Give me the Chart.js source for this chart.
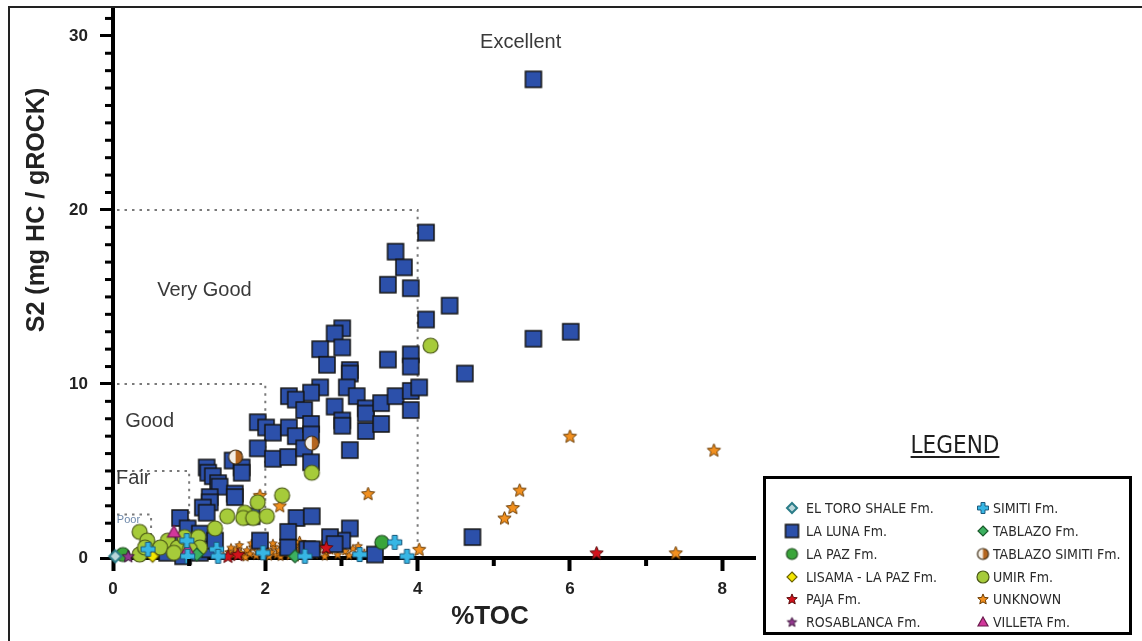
<!DOCTYPE html>
<html>
<head>
<meta charset="utf-8">
<script src="https://cdn.jsdelivr.net/npm/chart.js@4.4.1/dist/chart.umd.min.js"></script>
<style>
  html, body { margin: 0; padding: 0; background: #fff; }
  canvas { display: block; }
</style>
</head>
<body>
<canvas id="c" width="1142" height="641"></canvas>
<script>
// ---- Rock-Eval pyrolysis: S2 vs %TOC by formation ----
const formations = [
  'EL TORO SHALE Fm.', 'LA LUNA Fm.', 'LA PAZ Fm.', 'LISAMA - LA PAZ Fm.',
  'PAJA Fm.', 'ROSABLANCA Fm.', 'SIMITI Fm.', 'TABLAZO Fm.',
  'TABLAZO SIMITI Fm.', 'UMIR Fm.', 'UNKNOWN', 'VILLETA Fm.'
];

// [TOC %, S2 mg HC/g rock]
const elToroShale = [[0.03, 0.1]];
const laLuna = [
  [5.52, 27.5], [4.11, 18.7], [3.71, 17.6], [3.82, 16.7], [3.61, 15.7], [3.91, 15.5],
  [4.42, 14.5], [4.11, 13.7], [5.52, 12.6], [6.01, 13.0], [4.62, 10.6], [3.01, 13.2],
  [2.91, 12.9], [3.01, 12.1], [2.72, 12.0], [3.61, 11.4], [3.91, 11.7], [3.91, 11.0],
  [2.81, 11.1], [3.11, 10.8], [3.11, 10.6], [2.72, 9.8], [2.60, 9.5], [2.31, 9.3],
  [2.40, 9.1], [2.51, 8.5], [2.91, 8.7], [3.07, 9.8], [3.20, 9.3], [3.32, 8.6],
  [3.32, 8.3], [3.52, 8.9], [3.71, 9.3], [3.91, 9.6], [4.02, 9.8], [3.91, 8.5],
  [3.01, 7.9], [3.01, 7.6], [3.32, 7.3], [3.52, 7.7], [3.11, 6.2], [1.90, 7.8],
  [2.01, 7.5], [2.10, 7.2], [2.31, 7.5], [2.40, 7.0], [2.60, 7.7], [2.60, 7.1],
  [1.90, 6.3], [2.10, 5.7], [2.30, 5.8], [2.51, 6.3], [2.60, 5.5], [1.57, 5.6],
  [1.69, 5.2], [1.69, 4.9], [1.23, 5.2], [1.25, 4.9], [1.31, 4.7], [1.38, 4.3],
  [1.40, 4.1], [1.27, 3.5], [1.27, 3.2], [1.18, 2.9], [1.60, 3.7], [1.60, 3.5],
  [0.88, 2.3], [0.98, 1.7], [1.23, 2.6], [1.82, 2.4], [2.41, 2.3], [2.61, 2.4],
  [2.30, 1.5], [3.11, 1.7], [3.01, 1.0], [2.85, 1.2], [1.93, 1.0], [3.44, 0.2],
  [2.55, 0.5], [0.71, 0.3], [0.92, 0.1], [4.72, 1.2], [1.14, 0.3], [1.27, 0.5],
  [0.92, 0.9], [2.30, 0.6], [2.61, 0.5], [2.91, 0.8], [1.14, 1.4], [1.34, 1.0]
];
const laPaz = [[3.53, 0.9], [0.13, 0.2]];
const lisamaLaPaz = [[0.52, 0.1]];
const paja = [[1.51, 0.1], [1.64, 0.2], [2.80, 0.6], [6.35, 0.3]];
const rosablanca = [[0.20, 0.1]];
const simiti = [
  [0.46, 0.5], [0.97, 1.0], [0.98, 0.1], [1.36, 0.5], [1.38, 0.1],
  [1.97, 0.3], [2.52, 0.1], [3.24, 0.2], [3.70, 0.9], [3.86, 0.1]
];
const tablazo = [[1.10, 0.2], [2.39, 0.1]];
const tablazoSimiti = [[2.61, 6.6], [1.61, 5.8]];
const umir = [
  [4.17, 12.2], [2.61, 4.9], [2.22, 3.6], [1.90, 3.2], [1.73, 2.6], [1.71, 2.3],
  [1.84, 2.3], [2.02, 2.4], [1.50, 2.4], [1.34, 1.7], [0.35, 1.5], [0.45, 1.0],
  [0.72, 1.0], [0.85, 0.6], [0.94, 1.2], [1.12, 1.2], [1.14, 0.6], [1.01, 0.5],
  [0.35, 0.2], [0.62, 0.6], [0.42, 0.6], [0.80, 0.3]
];
// unknown-formation samples: isolated ones, then the dense low-S2 group
const unknownScattered = [
  [7.89, 6.2], [6.00, 7.0], [5.34, 3.9], [5.25, 2.9], [5.14, 2.3], [3.35, 3.7],
  [7.39, 0.3], [4.02, 0.5], [1.93, 3.6], [2.19, 3.0], [2.45, 0.9]
];
const unknownCluster = [
  [0.75, 0.2], [1.45, 0.15], [1.52, 0.35], [1.58, 0.2], [1.62, 0.5], [1.68, 0.3],
  [1.72, 0.12], [1.76, 0.45], [1.80, 0.25], [1.84, 0.6], [1.88, 0.15], [1.90, 0.4],
  [1.95, 0.7], [1.98, 0.22], [2.02, 0.5], [2.05, 0.1], [2.08, 0.35], [2.12, 0.65],
  [2.15, 0.2], [2.18, 0.45], [2.22, 0.8], [2.25, 0.3], [2.28, 0.55], [2.32, 0.12],
  [2.35, 0.4], [2.38, 0.7], [2.42, 0.25], [2.46, 0.5], [2.50, 0.15], [2.55, 0.6],
  [2.60, 0.35], [2.65, 0.2], [2.70, 0.5], [2.75, 0.85], [2.80, 0.3], [2.88, 0.6],
  [2.95, 0.2], [3.05, 0.4], [3.15, 0.55], [3.30, 0.3], [3.45, 0.5],
  [1.55, 0.6], [1.66, 0.75], [1.74, 0.05], [1.82, 0.85], [1.93, 0.55], [2.00, 0.3],
  [2.10, 0.85], [2.20, 0.08], [2.27, 0.72], [2.40, 0.05], [2.48, 0.75], [2.58, 0.18],
  [2.68, 0.7], [2.78, 0.1], [2.85, 0.45], [2.98, 0.7], [3.10, 0.15], [3.22, 0.7]
];
const villeta = [[0.80, 1.5], [0.98, 0.5]];

// Source-rock quality classes (upper TOC / S2 limits)
const gradeNames = ['Poor', 'Fair', 'Good', 'Very Good', 'Excellent'];
const gradeTOC = [0.5, 1, 2, 4];
const gradeS2 = [2.5, 5, 10, 20];

// Axis ticks
const xTicks = [0, 2, 4, 6, 8];
const yTicks = [0, 10, 20, 30];

// ---- marker sprites ----
function sprite(shape, size, fill, stroke, lw) {
  const d = Math.ceil(size + lw + 2);
  const c = document.createElement('canvas');
  c.width = d; c.height = d;
  const g = c.getContext('2d');
  const m = d / 2, r = size / 2;
  g.lineWidth = lw; g.strokeStyle = stroke; g.fillStyle = fill; g.lineJoin = 'miter';
  g.beginPath();
  if (shape === 'square') {
    g.rect(m - r, m - r, size, size);
  } else if (shape === 'circle') {
    g.arc(m, m, r, 0, Math.PI * 2);
  } else if (shape === 'diamond') {
    g.moveTo(m, m - r); g.lineTo(m + r, m); g.lineTo(m, m + r); g.lineTo(m - r, m); g.closePath();
  } else if (shape === 'triangle') {
    g.moveTo(m, m - r); g.lineTo(m + r, m + r * 0.8); g.lineTo(m - r, m + r * 0.8); g.closePath();
  } else if (shape === 'star') {
    for (let k = 0; k < 10; k++) {
      const a = -Math.PI / 2 + k * Math.PI / 5;
      const rr = k % 2 ? r * 0.45 : r;
      const px = m + rr * Math.cos(a), py = m + 0.08 * r + rr * Math.sin(a);
      k ? g.lineTo(px, py) : g.moveTo(px, py);
    }
    g.closePath();
  } else if (shape === 'plus') {
    const w = size * 0.18;
    const pts = [[-w, -r], [w, -r], [w, -w], [r, -w], [r, w], [w, w], [w, r], [-w, r], [-w, w], [-r, w], [-r, -w], [-w, -w]];
    pts.forEach((p, k) => k ? g.lineTo(m + p[0], m + p[1]) : g.moveTo(m + p[0], m + p[1]));
    g.closePath();
  } else if (shape === 'half') {
    g.arc(m, m, r, 0, Math.PI * 2);
    g.fillStyle = '#f4efe6'; g.fill();
    g.beginPath(); g.arc(m, m, r, -Math.PI / 2, Math.PI / 2); g.closePath();
    g.fillStyle = fill; g.fill();
    g.beginPath(); g.arc(m, m, r, 0, Math.PI * 2);
    g.stroke();
    return c;
  }
  g.fill(); g.stroke();
  return c;
}

const styleDefs = {
  'EL TORO SHALE Fm.':  ['diamond', 12, '#b9d6da', '#2b7c88', 2],
  'LA LUNA Fm.':        ['square', 16, '#2c50aa', '#141414', 1.5],
  'LA PAZ Fm.':         ['circle', 14, '#3aa53a', '#1f4a1f', 1.2],
  'LISAMA - LA PAZ Fm.':['diamond', 12, '#f3e600', '#6b6200', 1.2],
  'PAJA Fm.':           ['star', 14, '#d3121c', '#5a0a0a', 1],
  'ROSABLANCA Fm.':     ['star', 13, '#93388f', '#3e163c', 1],
  'SIMITI Fm.':         ['plus', 14, '#37b6e4', '#1b5a7c', 1],
  'TABLAZO Fm.':        ['diamond', 13, '#3cb160', '#1b5a2b', 1.2],
  'TABLAZO SIMITI Fm.': ['half', 14, '#b4661f', '#3b2a12', 1.2],
  'UMIR Fm.':           ['circle', 15, '#a6cb3a', '#4a5816', 1.2],
  'UNKNOWN':            ['star', 14, '#f2901f', '#6a3a00', 1],
  'VILLETA Fm.':        ['triangle', 13, '#d2379b', '#6b1a4d', 1.2]
};
const sprites = {}, legendSprites = {};
for (const name of formations) {
  const s = styleDefs[name];
  sprites[name] = sprite(s[0], s[1], s[2], s[3], s[4]);
  legendSprites[name] = sprite(s[0], Math.round(s[1] * 0.8), s[2], s[3], s[4]);
}
const smallStar = sprite('star', 9, '#e8871a', '#5a3000', 0.8);

const toPts = arr => arr.map(p => ({ x: p[0], y: p[1] }));
const seriesData = {
  'EL TORO SHALE Fm.': elToroShale,
  'LA LUNA Fm.': laLuna,
  'LA PAZ Fm.': laPaz,
  'LISAMA - LA PAZ Fm.': lisamaLaPaz,
  'PAJA Fm.': paja,
  'ROSABLANCA Fm.': rosablanca,
  'SIMITI Fm.': simiti,
  'TABLAZO Fm.': tablazo,
  'TABLAZO SIMITI Fm.': tablazoSimiti,
  'UMIR Fm.': umir,
  'UNKNOWN': unknownScattered.concat(unknownCluster),
  'VILLETA Fm.': villeta
};
// stacking: lower order is drawn on top
const drawOrder = {
  'UNKNOWN': 12, 'LA LUNA Fm.': 11, 'UMIR Fm.': 10, 'TABLAZO SIMITI Fm.': 9,
  'LA PAZ Fm.': 8, 'TABLAZO Fm.': 7, 'PAJA Fm.': 6, 'VILLETA Fm.': 5,
  'LISAMA - LA PAZ Fm.': 4, 'ROSABLANCA Fm.': 3, 'EL TORO SHALE Fm.': 2, 'SIMITI Fm.': 1
};

const datasets = formations.map(name => ({
  label: name,
  data: toPts(seriesData[name]),
  order: drawOrder[name],
  clip: false,
  pointStyle: name === 'UNKNOWN'
    ? (ctx => ctx.dataIndex < unknownScattered.length ? sprites[name] : smallStar)
    : sprites[name],
  pointRadius: 7,
  showLine: false
}));

const FONT = "'Liberation Sans', Arial, Helvetica, sans-serif";
const NARROW = "'Liberation Sans Narrow', 'DejaVu Sans Condensed', 'Arial Narrow', sans-serif";

const decor = {
  id: 'decor',
  beforeDatasetsDraw(chart) {
    const g = chart.ctx, xs = chart.scales.x, ys = chart.scales.y;
    g.save();
    // quality class boundaries
    g.strokeStyle = '#7a7a7a'; g.lineWidth = 2; g.setLineDash([2.5, 5]);
    for (let i = 0; i < gradeTOC.length; i++) {
      const px = xs.getPixelForValue(gradeTOC[i]);
      const py = ys.getPixelForValue(gradeS2[i]);
      g.beginPath();
      g.moveTo(xs.getPixelForValue(0) + 4, py);
      g.lineTo(px, py);
      g.lineTo(px, ys.getPixelForValue(0) - 3);
      g.stroke();
    }
    g.setLineDash([]);
    // class names
    const labels = [
      { t: gradeNames[0], x: 0.05, y: 2.18, size: 11, color: '#6d88aa' },
      { t: gradeNames[1], x: 0.04, y: 4.54, size: 20, color: '#3a3a3a' },
      { t: gradeNames[2], x: 0.16, y: 7.87, size: 20, color: '#3a3a3a' },
      { t: gradeNames[3], x: 0.58, y: 15.35, size: 20, color: '#3a3a3a' },
      { t: gradeNames[4], x: 4.82, y: 29.6, size: 20, color: '#3a3a3a' }
    ];
    g.textBaseline = 'middle'; g.textAlign = 'left';
    for (const l of labels) {
      g.font = l.size + 'px ' + FONT;
      g.fillStyle = l.color;
      g.fillText(l.t, xs.getPixelForValue(l.x), ys.getPixelForValue(l.y));
    }
    g.restore();
  },
  afterDraw(chart) {
    const g = chart.ctx, xs = chart.scales.x, ys = chart.scales.y, a = chart.chartArea;
    g.save();
    // minor ticks
    g.fillStyle = '#000';
    for (let v = 1; v < 32; v++) {
      if (v % 10 === 0) continue;
      const py = ys.getPixelForValue(v);
      g.fillRect(a.left - 8, py - 1.5, 7, 3);
    }
    for (let v = 1; v < 8; v += 2) {
      const px = xs.getPixelForValue(v);
      g.fillRect(px - 2, a.bottom + 1, 4, 7);
    }
    // axis titles
    g.fillStyle = '#222';
    g.font = 'bold 26px ' + FONT;
    g.textAlign = 'center'; g.textBaseline = 'middle';
    g.fillText('%TOC', 490, 617);
    g.translate(37, 210); g.rotate(-Math.PI / 2);
    g.font = 'bold 25px ' + FONT;
    g.fillText('S2 (mg HC / gROCK)', 0, 0);
    g.setTransform(1, 0, 0, 1, 0, 0);

    // legend
    g.fillStyle = '#1e1e1e';
    g.font = '24px ' + NARROW;
    g.textAlign = 'center'; g.textBaseline = 'alphabetic';
    g.fillText('LEGEND', 955, 453);
    const lw = g.measureText('LEGEND').width;
    g.fillRect(955 - lw / 2, 456, lw, 2);
    g.lineWidth = 3; g.strokeStyle = '#000';
    g.strokeRect(764.5, 477.5, 366, 156);
    g.font = '14px ' + NARROW;
    g.textAlign = 'left'; g.textBaseline = 'middle';
    g.fillStyle = '#2a2a2a';
    const rowY = [508, 531, 554, 577, 599, 622];
    formations.forEach((name, i) => {
      const col = i < 6 ? 0 : 1, row = i % 6;
      const mx = col ? 983 : 792, tx = col ? 993 : 806;
      const sp = legendSprites[name];
      g.drawImage(sp, mx - sp.width / 2, rowY[row] - sp.height / 2);
      g.fillText(name, tx, rowY[row] + 1);
    });
    // outer frame
    g.lineWidth = 2; g.strokeStyle = '#222';
    g.strokeRect(9, 7, 1200, 700);
    g.restore();
  }
};

const tickFont = { family: FONT, size: 17, weight: 'bold' };
const noPad = s => { s.paddingTop = 0; s.paddingBottom = 0; s.paddingLeft = 0; s.paddingRight = 0; };

new Chart(document.getElementById('c'), {
  type: 'scatter',
  data: { datasets },
  options: {
    responsive: false,
    devicePixelRatio: 1,
    animation: false,
    events: [],
    layout: { padding: { left: 0, right: 387, top: 8, bottom: 0 } },
    plugins: { legend: { display: false }, tooltip: { enabled: false } },
    scales: {
      x: {
        type: 'linear', min: 0, max: 8.43,
        afterFit: s => { s.height = 83; noPad(s); },
        afterBuildTicks: s => { s.ticks = xTicks.map(v => ({ value: v })); },
        border: { display: true, color: '#000', width: 4 },
        grid: { display: true, drawOnChartArea: false, drawTicks: true, tickLength: 13, tickWidth: 4, tickColor: '#000' },
        ticks: { font: tickFont, color: '#222', padding: 8, maxRotation: 0 }
      },
      y: {
        type: 'linear', min: 0, max: 31.6,
        afterFit: s => { s.width = 113; noPad(s); },
        afterBuildTicks: s => { s.ticks = yTicks.map(v => ({ value: v })); },
        border: { display: true, color: '#000', width: 4 },
        grid: { display: true, drawOnChartArea: false, drawTicks: true, tickLength: 13, tickWidth: 3, tickColor: '#000' },
        ticks: { font: tickFont, color: '#222', padding: 12 }
      }
    }
  },
  plugins: [decor]
});
</script>
</body>
</html>
